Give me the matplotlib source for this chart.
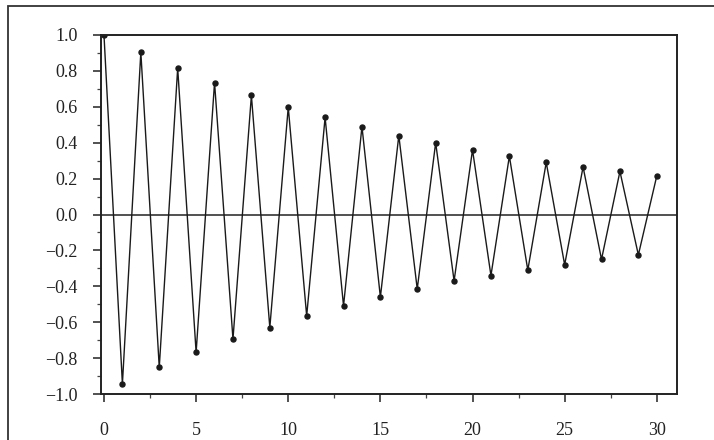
import numpy as np
import matplotlib.pyplot as plt
from matplotlib.patches import Rectangle
from matplotlib.ticker import MultipleLocator

# autocorrelation, lags 0..30
lags = list(range(31))
acf = [1.0, -0.944, 0.904, -0.852, 0.815, -0.768, 0.735, -0.694, 0.663, -0.63,
       0.598, -0.565, 0.541, -0.509, 0.49, -0.46, 0.44, -0.415, 0.40, -0.37,
       0.36, -0.34, 0.325, -0.31, 0.29, -0.28, 0.265, -0.25, 0.24, -0.225, 0.215]
yticks = [-1.0, -0.8, -0.6, -0.4, -0.2, 0.0, 0.2, 0.4, 0.6, 0.8, 1.0]
xticks = [0, 5, 10, 15, 20, 25, 30]

plt.rcParams['font.family'] = ['Liberation Serif', 'DejaVu Serif']

fig = plt.figure(figsize=(7.14, 4.40), dpi=100)
ax = fig.add_axes([0.1415, 0.1045, 0.948 - 0.1415, 0.9205 - 0.1045])

# outer scan frame
fig.patches.append(Rectangle((8 / 714, -0.02), 1.05, 0.986 + 0.02,
                             transform=fig.transFigure, fill=False,
                             edgecolor='#333333', linewidth=1.3))

ax.axhline(0, color='#222222', linewidth=1.1, zorder=1)
ax.plot(lags, acf, color='#1a1a1a', linewidth=1.0, marker='o',
        markersize=3.6, zorder=2)

ax.set_xlim(-0.16, 31.09)
ax.set_ylim(-1.0, 1.0)
ax.set_xticks(xticks)
ax.set_yticks(yticks)
ax.set_yticklabels(['\u22121.0', '\u22120.8', '\u22120.6', '\u22120.4', '\u22120.2',
                    '0.0', '0.2', '0.4', '0.6', '0.8', '1.0'])
ax.xaxis.set_minor_locator(MultipleLocator(2.5))
ax.yaxis.set_minor_locator(MultipleLocator(0.1))
ax.tick_params(axis='both', which='major', direction='out', length=6,
               width=1.1, labelsize=13, colors='#222222')
ax.tick_params(axis='x', which='major', pad=14)
ax.tick_params(axis='y', which='major', pad=11)
ax.tick_params(axis='both', which='minor', direction='out', length=3, width=0.9,
               colors='#444444')

for s in ax.spines.values():
    s.set_linewidth(1.4)
    s.set_color('#222222')

fig.savefig('out.png', dpi=100)
